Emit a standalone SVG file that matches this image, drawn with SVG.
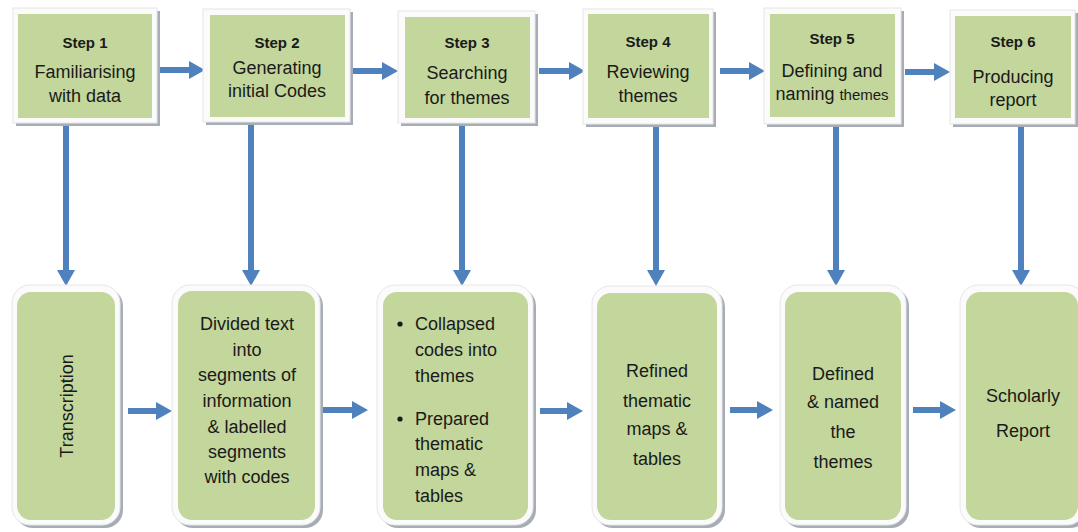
<svg xmlns="http://www.w3.org/2000/svg" width="1078" height="532" viewBox="0 0 1078 532">
<style>
.bg{fill:#ffffff}
.sh{fill:#a7adb5}
.fr{fill:#fbfbfb;stroke:#e6e6e6;stroke-width:1}
.gr{fill:#c3d69b}
.t{font-family:"Liberation Sans",Arial,sans-serif;font-size:18px;fill:#1a1a1a;text-anchor:middle}
.b{font-weight:bold;font-size:15px}
.l{text-anchor:start}
.ar{stroke:#4f81bd;stroke-width:6;fill:none}
</style>
<defs>
<marker id="ah" viewBox="0 0 16 18" refX="0" refY="9" markerWidth="16" markerHeight="18" markerUnits="userSpaceOnUse" orient="auto">
<path d="M0,0 L16,9 L0,18 z" fill="#4f81bd"/>
</marker>
</defs>
<rect class="bg" x="0" y="0" width="1078" height="532"/>

<g id="connectors">
<line class="ar" x1="160" y1="70" x2="189" y2="70" marker-end="url(#ah)"/>
<line class="ar" x1="352" y1="71" x2="382" y2="71" marker-end="url(#ah)"/>
<line class="ar" x1="539" y1="71" x2="569" y2="71" marker-end="url(#ah)"/>
<line class="ar" x1="720" y1="71" x2="749" y2="71" marker-end="url(#ah)"/>
<line class="ar" x1="905" y1="72" x2="934" y2="72" marker-end="url(#ah)"/>
<line class="ar" x1="66" y1="124" x2="66" y2="270" marker-end="url(#ah)"/>
<line class="ar" x1="251" y1="124" x2="251" y2="270" marker-end="url(#ah)"/>
<line class="ar" x1="462" y1="124" x2="462" y2="270" marker-end="url(#ah)"/>
<line class="ar" x1="656" y1="124" x2="656" y2="270" marker-end="url(#ah)"/>
<line class="ar" x1="836" y1="124" x2="836" y2="270" marker-end="url(#ah)"/>
<line class="ar" x1="1021" y1="124" x2="1021" y2="270" marker-end="url(#ah)"/>
<line class="ar" x1="128" y1="411" x2="156" y2="411" marker-end="url(#ah)"/>
<line class="ar" x1="322" y1="410" x2="352" y2="410" marker-end="url(#ah)"/>
<line class="ar" x1="540" y1="411" x2="567" y2="411" marker-end="url(#ah)"/>
<line class="ar" x1="730" y1="410" x2="757" y2="410" marker-end="url(#ah)"/>
<line class="ar" x1="913" y1="410" x2="940" y2="410" marker-end="url(#ah)"/>
</g>

<g id="step1">
<rect class="sh" x="16" y="11" width="144" height="115"/>
<rect class="fr" x="13" y="8" width="144" height="115"/>
<rect class="gr" x="18" y="14" width="134" height="104"/>
<text class="t b" x="85" y="48">Step 1</text>
<text class="t" x="85" y="78">Familiarising</text>
<text class="t" x="85" y="102">with data</text>
</g>
<g id="step2">
<rect class="sh" x="206" y="12" width="147" height="113"/>
<rect class="fr" x="203" y="9" width="147" height="113"/>
<rect class="gr" x="210" y="15" width="135" height="102"/>
<text class="t b" x="277" y="48">Step 2</text>
<text class="t" x="277" y="74">Generating</text>
<text class="t" x="277" y="97">initial Codes</text>
</g>
<g id="step3">
<rect class="sh" x="401" y="14" width="137" height="112"/>
<rect class="fr" x="398" y="11" width="137" height="112"/>
<rect class="gr" x="405" y="17" width="125" height="101"/>
<text class="t b" x="467" y="48">Step 3</text>
<text class="t" x="467" y="79">Searching</text>
<text class="t" x="467" y="104">for themes</text>
</g>
<g id="step4">
<rect class="sh" x="586" y="12" width="130" height="115"/>
<rect class="fr" x="583" y="9" width="130" height="115"/>
<rect class="gr" x="588" y="14" width="121" height="104"/>
<text class="t b" x="648" y="47">Step 4</text>
<text class="t" x="648" y="78">Reviewing</text>
<text class="t" x="648" y="102">themes</text>
</g>
<g id="step5">
<rect class="sh" x="767" y="11" width="137" height="116"/>
<rect class="fr" x="764" y="8" width="137" height="116"/>
<rect class="gr" x="770" y="14" width="125" height="103"/>
<text class="t b" x="832" y="44">Step 5</text>
<text class="t" x="832" y="77">Defining and</text>
<text class="t" x="832" y="100">naming <tspan font-size="15">themes</tspan></text>
</g>
<g id="step6">
<rect class="sh" x="953" y="13" width="125" height="114"/>
<rect class="fr" x="950" y="10" width="125" height="114"/>
<rect class="gr" x="955" y="16" width="116" height="102"/>
<text class="t b" x="1013" y="47">Step 6</text>
<text class="t" x="1013" y="83">Producing</text>
<text class="t" x="1013" y="106">report</text>
</g>

<g id="out1">
<rect class="sh" x="15" y="288" width="108" height="240" rx="18"/>
<rect class="fr" x="12" y="285" width="108" height="240" rx="18"/>
<rect class="gr" x="17" y="292" width="98" height="228" rx="14"/>
<text class="t" font-size="19" transform="translate(73,406) rotate(-90)">Transcription</text>
</g>
<g id="out2">
<rect class="sh" x="175" y="288" width="148" height="240" rx="18"/>
<rect class="fr" x="172" y="285" width="148" height="240" rx="18"/>
<rect class="gr" x="178" y="291" width="137" height="229" rx="14"/>
<text class="t" x="247" y="330">Divided text</text>
<text class="t" x="247" y="356">into</text>
<text class="t" x="247" y="381">segments of</text>
<text class="t" x="247" y="407">information</text>
<text class="t" x="247" y="433">&amp; labelled</text>
<text class="t" x="247" y="458">segments</text>
<text class="t" x="247" y="483">with codes</text>
</g>
<g id="out3">
<rect class="sh" x="380" y="288" width="156" height="240" rx="18"/>
<rect class="fr" x="377" y="285" width="156" height="240" rx="18"/>
<rect class="gr" x="383" y="292" width="145" height="228" rx="14"/>
<circle cx="400" cy="324" r="2.6" fill="#1a1a1a"/>
<circle cx="400" cy="419" r="2.6" fill="#1a1a1a"/>
<text class="t l" x="415" y="330">Collapsed</text>
<text class="t l" x="415" y="356">codes into</text>
<text class="t l" x="415" y="382">themes</text>
<text class="t l" x="415" y="425">Prepared</text>
<text class="t l" x="415" y="450">thematic</text>
<text class="t l" x="415" y="476">maps &amp;</text>
<text class="t l" x="415" y="502">tables</text>
</g>
<g id="out4">
<rect class="sh" x="595" y="289" width="130" height="239" rx="18"/>
<rect class="fr" x="592" y="286" width="130" height="239" rx="18"/>
<rect class="gr" x="597" y="293" width="120" height="227" rx="14"/>
<text class="t" x="657" y="377">Refined</text>
<text class="t" x="657" y="407">thematic</text>
<text class="t" x="657" y="435">maps &amp;</text>
<text class="t" x="657" y="465">tables</text>
</g>
<g id="out5">
<rect class="sh" x="783" y="288" width="126" height="240" rx="18"/>
<rect class="fr" x="780" y="285" width="126" height="240" rx="18"/>
<rect class="gr" x="785" y="292" width="116" height="228" rx="14"/>
<text class="t" x="843" y="380">Defined</text>
<text class="t" x="843" y="408">&amp; named</text>
<text class="t" x="843" y="438">the</text>
<text class="t" x="843" y="468">themes</text>
</g>
<g id="out6">
<rect class="sh" x="963" y="288" width="125" height="240" rx="18"/>
<rect class="fr" x="960" y="285" width="125" height="240" rx="18"/>
<rect class="gr" x="966" y="292" width="112" height="228" rx="14"/>
<text class="t" x="1023" y="402">Scholarly</text>
<text class="t" x="1023" y="437">Report</text>
</g>
</svg>
